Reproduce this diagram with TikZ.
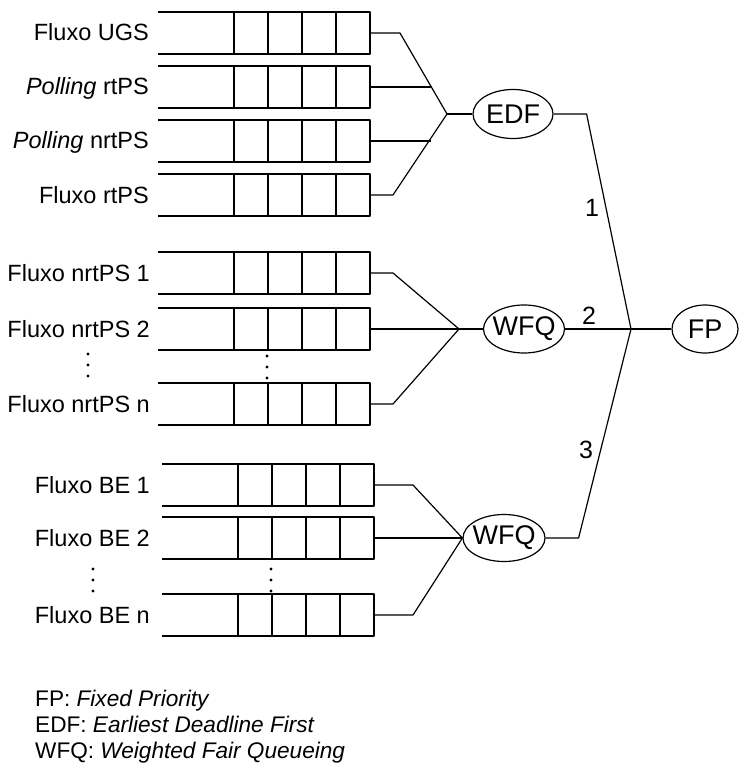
\documentclass[tikz,border=0pt]{standalone}
\usepackage{fontspec}
\setmainfont{Liberation Sans}
\usetikzlibrary{shapes.geometric}

\tikzset{
  linha/.style={line width=1.2pt, line join=round},
  rotulo/.style={font=\fontsize{23.5}{27}\selectfont, anchor=base east, inner sep=0pt},
  escalonador/.style={draw, ellipse, line width=1.2pt, inner xsep=-6pt, inner ysep=0pt,
    font=\fontsize{27}{31}\selectfont},
  numero/.style={font=\fontsize{25}{29}\selectfont, inner sep=0pt},
  legenda/.style={font=\fontsize{22.6}{26}\selectfont, anchor=base west, inner sep=0pt},
  fila/.pic={
    \draw[linha] (-212,-21) -- (0,-21) -- (0,21) -- (-212,21);
    \draw[linha] (-34,-21) -- (-34,21) (-68,-21) -- (-68,21)
                 (-102,-21) -- (-102,21) (-136,-21) -- (-136,21);
    \coordinate (-out) at (0,0);
  }
}

\begin{document}
\begin{tikzpicture}[x=1pt, y=-1pt]
        \useasboundingbox (0,0) rectangle (739,778);

        % Filas do EDF
        \pic (qUGS) at (370,33) {fila};
        \pic (qPollRT) at (370,87) {fila};
        \pic (qPollNRT) at (370,141) {fila};
        \pic (qRT) at (370,195) {fila};

        \node[rotulo] (lUGS) at (149,41) {Fluxo UGS};
        \node[rotulo] (lPollRT) at (149,95) {\textit{Polling} rtPS};
        \node[rotulo] (lPollNRT) at (149,149) {\textit{Polling} nrtPS};
        \node[rotulo] (lRT) at (149,203) {Fluxo rtPS};

        % Filas nrtPS
        \pic (qNRT1) at (370,273) {fila};
        \pic (qNRT2) at (370,329) {fila};
        \pic (qNRTn) at (370,404) {fila};

        \node[rotulo] (lNRT1) at (150,281) {Fluxo nrtPS 1};
        \node[rotulo] (lNRT2) at (150,337) {Fluxo nrtPS 2};
        \node[rotulo] (lNRTn) at (150,412) {Fluxo nrtPS n};
        \fill (88,354) circle (1.6) (88,365) circle (1.6) (88,376) circle (1.6);
        \fill (267,356) circle (1.6) (267,367) circle (1.6) (267,378) circle (1.6);

        % Filas BE
        \pic (qBE1) at (374,485) {fila};
        \pic (qBE2) at (374,538) {fila};
        \pic (qBEn) at (374,615) {fila};

        \node[rotulo] (lBE1) at (150,493) {Fluxo BE 1};
        \node[rotulo] (lBE2) at (150,546) {Fluxo BE 2};
        \node[rotulo] (lBEn) at (150,623) {Fluxo BE n};
        \fill (93,569) circle (1.6) (93,580) circle (1.6) (93,591) circle (1.6);
        \fill (271,569) circle (1.6) (271,580) circle (1.6) (271,591) circle (1.6);

        % Escalonadores
        \node[escalonador, minimum width=80, minimum height=49] (edf) at (513,114) {EDF};
        \node[escalonador, minimum width=81, minimum height=48] (wfqA) at (524,329) {WFQ};
        \node[escalonador, minimum width=82, minimum height=47] (wfqB) at (504,538) {WFQ};
        \node[escalonador, minimum width=66, minimum height=48] (fp) at (705,329) {FP};

        \coordinate (jEDF) at (447,114);
        \coordinate (jWFQ) at (459,329);
        \coordinate (jFP) at (631,329);

        % Ligacoes
        \draw[linha] (qUGS-out) -- ++(30,0) -- (jEDF);
        \draw[linha] (qPollRT-out) -- ++(62,0);
        \draw[linha] (qPollNRT-out) -- ++(61,0);
        \draw[linha] (qRT-out) -- ++(23,0) -- (jEDF);
        \draw[linha] (jEDF) -- (edf.west);

        \draw[linha] (qNRT1-out) -- ++(23,0) -- (jWFQ);
        \draw[linha] (qNRT2-out) -- (jWFQ);
        \draw[linha] (qNRTn-out) -- ++(23,0) -- (jWFQ);
        \draw[linha] (jWFQ) -- (wfqA.west);

        \draw[linha] (qBE1-out) -- ++(39,0) -- (wfqB.west);
        \draw[linha] (qBE2-out) -- (wfqB.west);
        \draw[linha] (qBEn-out) -- ++(39,0) -- (wfqB.west);

        \draw[linha] (edf.east) -- ++(33,0) -- (jFP);
        \draw[linha] (wfqA.east) -- (jFP);
        \draw[linha] (wfqB.east) -- ++(33,0) -- (jFP);
        \draw[linha] (jFP) -- (fp.west);

        \node[numero] (n1) at (592,208) {1};
        \node[numero] (n2) at (589,316) {2};
        \node[numero] (n3) at (586,450) {3};

        % Legenda
        \node[legenda] (legFP) at (35,706) {FP: \textit{Fixed Priority}};
        \node[legenda] (legEDF) at (35,732) {EDF: \textit{Earliest Deadline First}};
        \node[legenda] (legWFQ) at (35,758) {WFQ: \textit{Weighted Fair Queueing}};

    \end{tikzpicture}
\end{document}
